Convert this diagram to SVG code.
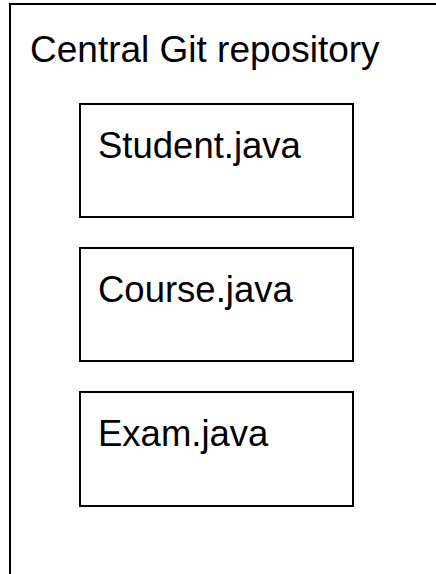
<svg xmlns="http://www.w3.org/2000/svg" width="436" height="574" viewBox="0 0 436 574">
  <style>
    .frame { fill: #ffffff; stroke: #000000; stroke-width: 2; }
    .file { fill: #ffffff; stroke: #000000; stroke-width: 2; }
    .label { font-family: "Liberation Sans", Arial, sans-serif; font-size: 36.5px; fill: #000000; }
    .title { font-size: 37px; }
  </style>
  <rect x="0" y="0" width="436" height="574" fill="#ffffff"/>
  <!-- repository container, running past the right and bottom edges -->
  <g id="repository">
    <rect class="frame" x="10" y="4" width="440" height="600"/>
    <text class="label title" x="30" y="62">Central Git repository</text>
  </g>
  <g id="connectors"></g>
  <g id="student">
    <rect class="file" x="80" y="104" width="273" height="113"/>
    <text class="label" x="98" y="158">Student.java</text>
  </g>
  <g id="course">
    <rect class="file" x="80" y="248" width="273" height="113"/>
    <text class="label" x="98" y="302">Course.java</text>
  </g>
  <g id="exam">
    <rect class="file" x="80" y="392" width="273" height="114"/>
    <text class="label" x="98" y="446">Exam.java</text>
  </g>
</svg>
